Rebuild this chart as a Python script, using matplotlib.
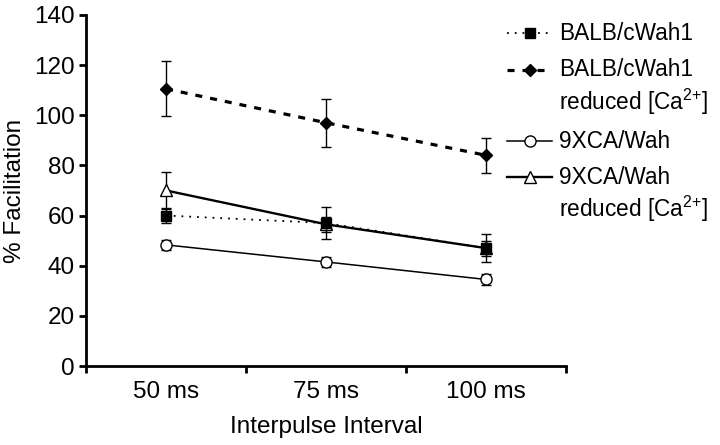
import numpy as np
import matplotlib.pyplot as plt
from matplotlib.lines import Line2D

plt.rcParams['font.family'] = ['Liberation Sans', 'DejaVu Sans']
plt.rcParams['mathtext.fontset'] = 'custom'
plt.rcParams['mathtext.rm'] = 'Liberation Sans'
plt.rcParams['mathtext.it'] = 'Liberation Sans'
plt.rcParams['mathtext.default'] = 'rm'

intervals = ['50 ms', '75 ms', '100 ms']

balb = [60.0, 57.0, 47.0]
balb_err = [3.0, 6.5, 5.5]
balb_ca = [110.5, 97.0, 84.0]
balb_ca_err = [11.0, 9.5, 7.0]
xca = [48.3, 41.5, 34.5]
xca_err = [2.0, 2.0, 2.0]
xca_ca = [70.0, 56.5, 47.0]
xca_ca_err = [7.5, 3.0, 3.0]

labels = ['BALB/cWah1', 'BALB/cWah1\nreduced [Ca$^{2{+}}$]',
          '9XCA/Wah', '9XCA/Wah\nreduced [Ca$^{2{+}}$]']

fig = plt.figure(figsize=(7.2, 4.45), dpi=100)
ax = fig.add_axes([0.1194, 0.1775, 0.667, 0.789])

x = np.arange(len(intervals)) + 0.5

styles = [
    dict(ls=(0, (1, 3.3)), lw=1.3, marker='s', ms=7.5, mfc='black', mec='black'),
    dict(ls=(0, (2.2, 2.5)), lw=2.3, marker='D', ms=6.5, mfc='black', mec='black'),
    dict(ls='-', lw=1.1, marker='o', ms=8, mfc='white', mec='black'),
    dict(ls='-', lw=1.7, marker='^', ms=9, mfc='white', mec='black'),
]
series = [(balb, balb_err), (balb_ca, balb_ca_err), (xca, xca_err), (xca_ca, xca_ca_err)]
order = [2, 3, 0, 1]
for k, i in enumerate(order):
    y, e = series[i]
    st = styles[i]
    ax.errorbar(x, y, yerr=e, color='black', ecolor='black', elinewidth=1,
                capsize=3.5, capthick=1, zorder=3 + k, **st)

ax.set_xlim(0, 3)
ax.set_ylim(0, 140)
ax.set_yticks(np.arange(0, 141, 20))
ax.set_xticks([0, 1, 2, 3])
ax.set_xticklabels([])
ax.set_xticks(x, minor=True)
ax.set_xticklabels(intervals, minor=True)
ax.tick_params(axis='x', which='minor', length=0, pad=11, labelsize=17.5)
ax.tick_params(axis='x', which='major', length=5, width=2, direction='out')
ax.tick_params(axis='y', length=5, width=2, direction='out', pad=3, labelsize=17.5)

for s in ['top', 'right']:
    ax.spines[s].set_visible(False)
for s in ['left', 'bottom']:
    ax.spines[s].set_linewidth(2)

ax.set_ylabel('% Facilitation', fontsize=17.5, labelpad=6)
ax.set_xlabel('Interpulse Interval', fontsize=17.5, labelpad=9)

# legend drawn by hand so the handle sits level with the first text line
W, H = 720.0, 445.0
rows = [33, 70, 141, 177]
for st, lab, r in zip(styles, labels, rows):
    yy = 1 - r / H
    fig.add_artist(Line2D([507 / W, 552 / W], [yy, yy], transform=fig.transFigure,
                          color='black', ls=st['ls'], lw=st['lw']))
    fig.add_artist(Line2D([530 / W], [yy], transform=fig.transFigure,
                          marker=st['marker'], ms=st['ms'], mfc=st['mfc'],
                          mec=st['mec'], ls='none'))
    fig.text(559 / W, yy + 11.5 / H, lab, fontsize=16.3, va='top', ha='left',
             transform=fig.transFigure, linespacing=1.25)

fig.savefig('out.png', dpi=100)
